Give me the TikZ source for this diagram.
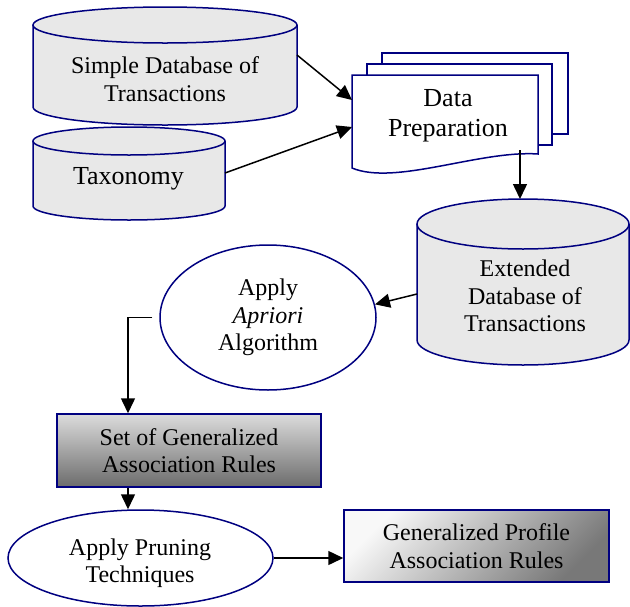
\documentclass[tikz,border=0pt]{standalone}
\usepackage{fontspec}
\setmainfont{Liberation Serif}
\usetikzlibrary{shapes.geometric,arrows.meta}
\definecolor{navyline}{RGB}{0,0,128}
\definecolor{dbfill}{RGB}{232,232,232}
\definecolor{setTop}{RGB}{220,220,220}
\definecolor{setBot}{RGB}{108,108,108}
\definecolor{gprTop}{RGB}{248,248,248}
\definecolor{gprBot}{RGB}{120,120,120}

% database drum: centre x, top-ellipse y, bottom-ellipse y, x radius, y radius
\newcommand\dbdrum[5]{%
  \fill[dbfill] (#1-#4,#2) -- (#1-#4,#3)
    arc[start angle=180,end angle=360,x radius=#4pt,y radius=#5pt]
    -- (#1+#4,#2)
    arc[start angle=0,end angle=180,x radius=#4pt,y radius=#5pt] -- cycle;
  \draw[outline] (#1-#4,#2) -- (#1-#4,#3)
    arc[start angle=180,end angle=360,x radius=#4pt,y radius=#5pt]
    -- (#1+#4,#2);
  \draw[outline] (#1,#2) ellipse[x radius=#4pt,y radius=#5pt];
}

\begin{document}
\begin{tikzpicture}[x=1pt,y=-1pt,
  outline/.style={draw=navyline, line width=1.5pt},
  flow/.style={draw=black, line width=1.5pt, -{Triangle[length=15pt,width=14pt]}},
  txt/.style={align=center, inner sep=0pt, font=\fontsize{24}{28}\selectfont},
]
\useasboundingbox (0,0) rectangle (630,606);

% --- databases ---
\dbdrum{165}{25}{107}{132}{18}
\node[txt] (sdb) at (165,79) {Simple Database of\\Transactions};

\dbdrum{129}{141}{206}{96}{14}
\node[txt, font=\fontsize{26}{30}\selectfont] (tax) at (128.5,179) {Taxonomy};

\dbdrum{523}{224}{340}{106}{25}
\node[txt, font=\fontsize{24}{27.5}\selectfont] (edb) at (525,296) {Extended\\Database of\\Transactions};

% --- stacked documents ---
\draw[outline, fill=white] (382,53) rectangle (568,134);
\draw[outline, fill=white] (367,64) rectangle (552,145);
\draw[outline, fill=white] (352,75) -- (538,75) -- (538,154)
  .. controls (480,150) and (395,186) .. (352,168) -- cycle;
\node[txt, font=\fontsize{26}{30}\selectfont] (dp) at (448,116) {Data\\Preparation};

% --- process ellipses and result boxes ---
\node[outline, ellipse, fill=white, minimum width=216pt, minimum height=145pt,
  txt, font=\fontsize{24}{27.5}\selectfont] (apr) at (268,317.5)
  {Apply\\\textit{Apriori}\\Algorithm};

\node[outline, rectangle, minimum width=264pt, minimum height=73pt,
  top color=setTop, bottom color=setBot, txt, font=\fontsize{24}{26.7}\selectfont]
  (set) at (189,450.5) {Set of Generalized\\Association Rules};

\node[outline, ellipse, fill=white, minimum width=265pt, minimum height=96pt,
  inner sep=0pt] (prn) at (140.5,558) {};
\node[txt, font=\fontsize{24}{26.7}\selectfont] (prnT) at (140,563)
  {Apply Pruning\\Techniques};

\node[outline, rectangle, minimum width=265pt, minimum height=72pt,
  top color=gprTop, bottom color=gprBot, shading angle=45, txt,
  font=\fontsize{24}{28.3}\selectfont]
  (gpr) at (476.5,546) {Generalized Profile\\Association Rules};

% --- connector end points ---
\coordinate (sdbR) at (297,55);
\coordinate (taxR) at (225,173);
\coordinate (dpInA) at (352,100);
\coordinate (dpInB) at (352,127);
\coordinate (dpOut) at (520,150);
\coordinate (edbTop) at (520,199);
\coordinate (edbL) at (417,294);
\coordinate (xcol) at (128,0);

% --- connectors ---
\draw[flow] (sdbR) -- (dpInA);
\draw[flow] (taxR) -- (dpInB);
\draw[flow] (dpOut) -- (edbTop);
\draw[flow] (edbL) -- (apr.7);
\draw[flow] ([xshift=-7pt]apr.west) -| (set.north -| xcol);
\draw[flow] (set.south -| xcol) -- (prn.north -| xcol);
\draw[flow] (prn.east) -- (prn.east -| gpr.west);
\end{tikzpicture}
\end{document}
